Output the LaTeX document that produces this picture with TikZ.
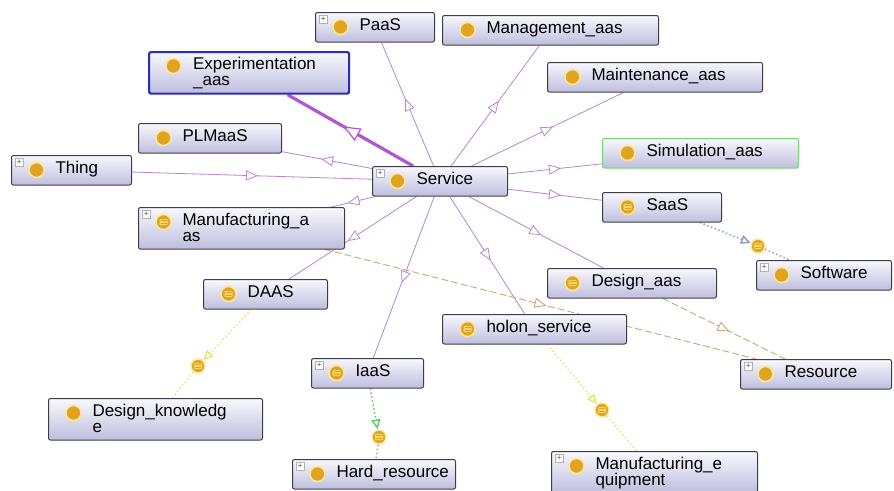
\documentclass[tikz,border=0pt]{standalone}
\usepackage{fontspec}
\setmainfont{Liberation Sans}
\usetikzlibrary{arrows.meta, decorations.markings, backgrounds}
\definecolor{boxedge}{RGB}{62,62,74}
\definecolor{boxtop}{RGB}{248,248,253}
\definecolor{boxbot}{RGB}{190,190,222}
\definecolor{iconorg}{RGB}{224,164,32}
\definecolor{iconhalo}{RGB}{250,232,160}
\definecolor{eqfill}{RGB}{248,214,110}
\definecolor{isacol}{RGB}{186,132,206}
\definecolor{expcol}{RGB}{176,84,216}
\definecolor{selblue}{RGB}{42,42,196}
\definecolor{selgrn}{RGB}{118,212,118}
\definecolor{dashcol}{RGB}{206,166,116}
\definecolor{eqyel}{RGB}{236,226,112}
\definecolor{eqgrn}{RGB}{104,198,114}
\definecolor{eqgry}{RGB}{142,160,184}
\tikzset{
  owlbox/.style  = {draw=boxedge, line width=1pt, rounded corners=2pt,
                    top color=boxtop, bottom color=boxbot,
                    anchor=north west, inner xsep=0pt, inner ysep=6pt,
                    text height=11.5pt, text depth=6pt, align=left,
                    font={\fontsize{17}{16}\selectfont},
                    execute at begin node={\leftskip=44pt\relax}},
  twoline/.style = {text depth=18pt},
  clsicon/.style = {circle, fill=iconorg, draw=iconhalo, line width=1.5pt,
                    minimum size=15pt, inner sep=0pt, anchor=center,
                    xshift=25.5pt, yshift=-15pt},
  eqicon/.style  = {clsicon, path picture={
                      \fill[eqfill, rounded corners=1pt] (-4,-3) rectangle (4,3);
                      \draw[iconorg, line width=0.8pt] (-3,-1.2) -- (3,-1.2) (-3,1.2) -- (3,1.2);}},
  clsbox/.style  = {owlbox, label={[clsicon]north west:{}}},
  eqbox/.style   = {owlbox, label={[eqicon]north west:{}}},
  plusmark/.style = {draw=gray!60, fill=white, anchor=north west, inner sep=0pt,
                     minimum size=8pt, xshift=4pt, yshift=-3pt, text=black!70,
                     font={\fontsize{8}{8}\selectfont}},
  plus/.style    = {label={[plusmark]north west:+}},
  eqdot/.style   = {circle, fill=iconorg, draw=iconhalo, line width=1.5pt,
                    minimum size=14pt, inner sep=0pt, path picture={
                      \fill[eqfill, rounded corners=1pt] (-4,-3) rectangle (4,3);
                      \draw[iconorg, line width=0.8pt] (-3,-1.2) -- (3,-1.2) (-3,1.2) -- (3,1.2);}},
  isa/.style     = {draw=isacol, line width=0.8pt, postaction={decorate, decoration={markings,
                    mark=at position 0.5 with {\arrow[xshift=6pt]{Triangle[fill=white, length=12pt, width=10pt]}}}}},
  expisa/.style  = {draw=expcol, line width=3.2pt, postaction={decorate, decoration={markings,
                    mark=at position 0.5 with {\arrow[xshift=8pt]{Triangle[fill=white, line width=1.2pt, length=17pt, width=14pt]}}}}},
  subdash/.style = {draw=dashcol, line width=0.9pt, dash pattern=on 7pt off 3pt,
                    postaction={decorate, decoration={markings,
                    mark=at position 0.5 with {\arrow[xshift=6pt]{Triangle[fill=white, length=12pt, width=10pt]}}}}},
  eqline/.style  = {line width=1.5pt, dash pattern=on 1.5pt off 2.5pt},
  eqarr/.style   = {-{Triangle[fill=white, length=10pt, width=9pt]}},
}

\begin{document}
\begin{tikzpicture}[x=1pt, y=-1pt]
  \useasboundingbox (0,0) rectangle (894,490);
  % classes
  \node[clsbox, plus, text width=119pt] (paas) at (315,12) {PaaS};
  \node[clsbox, text width=216pt] (mgmt) at (442,15) {Management\_aas};
  \node[clsbox, twoline, draw=selblue, line width=2.2pt, text width=200pt] (expt) at (148,51) {Experimentation\\\_aas};
  \node[clsbox, text width=215pt] (maint) at (547,62) {Maintenance\_aas};
  \node[clsbox, text width=143pt] (plm) at (138,123) {PLMaaS};
  \node[clsbox, plus, text width=120pt] (thing) at (11,155) {Thing};
  \node[clsbox, plus, text width=135pt] (service) at (372,166) {Service};
  \node[clsbox, draw=selgrn, text width=196pt] (sim) at (602,138) {Simulation\_aas};
  \node[eqbox, text width=119pt] (saas) at (602,192) {SaaS};
  \node[eqbox, plus, twoline, text width=206pt] (mfg) at (138,207) {Manufacturing\_a\\as};
  \node[eqbox, text width=124pt] (daas) at (203,279) {DAAS};
  \node[eqbox, text width=169pt] (desaas) at (547,268) {Design\_aas};
  \node[clsbox, plus, text width=135pt] (soft) at (756,260) {Software};
  \node[eqbox, text width=184pt] (holon) at (442,314) {holon\_service};
  \node[clsbox, plus, text width=151pt] (res) at (740,359) {Resource};
  \node[eqbox, plus, text width=112pt] (iaas) at (311,358) {IaaS};
  \node[clsbox, twoline, text width=214pt] (dknow) at (48,398) {Design\_knowledg\\e};
  \node[clsbox, plus, text width=163pt] (hard) at (292,459) {Hard\_resource};
  \node[clsbox, plus, twoline, text width=206pt] (mequip) at (551,451) {Manufacturing\_e\\quipment};
  % anonymous equivalents
  \node[eqdot] (eqsoft) at (758,246) {};
  \node[eqdot] (eqknow) at (198,366) {};
  \node[eqdot] (eqhard) at (379,437) {};
  \node[eqdot] (eqequip) at (602,410) {};
  \begin{scope}[on background layer]
    \fill[white] (0,0) rectangle (894,490);
    % subclass links
    \draw[isa] (thing) -- (service);
    \draw[isa] (service) -- (paas);
    \draw[isa] (service) -- (mgmt);
    \draw[isa] (service) -- (maint);
    \draw[isa] (service) -- (plm);
    \draw[isa] (service) -- (sim);
    \draw[isa] (service) -- (saas);
    \draw[isa] (service) -- (mfg);
    \draw[isa] (service) -- (daas);
    \draw[isa] (service) -- (iaas);
    \draw[isa] (service) -- (holon);
    \draw[isa] (service) -- (desaas);
    \draw[expisa] (service) -- (expt);
    \draw[subdash] (mfg) -- (res);
    \draw[subdash] (desaas) -- (res);
    % equivalence links
    \draw[eqline, eqgry, eqarr] (saas) -- (eqsoft);
    \draw[eqline, eqgry] (eqsoft) -- (soft);
    \draw[eqline, eqyel, eqarr] (daas) -- (eqknow);
    \draw[eqline, eqyel] (eqknow) -- (dknow);
    \draw[eqline, eqgrn, eqarr] (iaas) -- (eqhard);
    \draw[eqline, eqgrn] (eqhard) -- (hard);
    \draw[eqline, eqyel, eqarr] (holon) -- (eqequip);
    \draw[eqline, eqyel] (eqequip) -- (mequip);
  \end{scope}
\end{tikzpicture}
\end{document}
